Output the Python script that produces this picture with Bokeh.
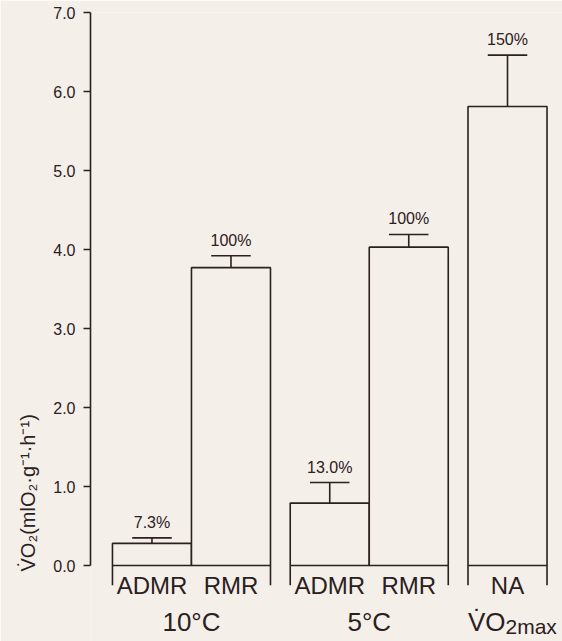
from bokeh.plotting import figure
from bokeh.models import ColumnDataSource, Range1d, FixedTicker, LabelSet, Label, Title
from bokeh.core.properties import value
from bokeh.embed import file_html
from bokeh.resources import INLINE

# ---- data ----
categories = ["ADMR", "RMR", "ADMR", "RMR", "NA"]
groups = ["10°C", "10°C", "5°C", "5°C", "V̇O₂max"]
group_names = ["10°C", "5°C", "V̇O₂max"]
values = [0.28, 3.77, 0.79, 4.03, 5.81]
errors = [0.07, 0.15, 0.26, 0.16, 0.65]
percent_labels = ["7.3%", "100%", "13.0%", "100%", "150%"]
y_ticks = [0, 1, 2, 3, 4, 5, 6, 7]
y_tick_labels = ["0.0", "1.0", "2.0", "3.0", "4.0", "5.0", "6.0", "7.0"]
y_label = "V̇O₂(mlO₂·g⁻¹·h⁻¹)"

BG = "#f5efea"
INK = "#2b2020"
FONT = "Liberation Sans"

# bar positions: unit width bars, groups separated by a quarter bar
xpos = []
x = 0.5
prev = None
for g in groups:
    if prev is not None:
        x += 1.0 if g == prev else 1.25
    xpos.append(x)
    prev = g

tops = [v + e for v, e in zip(values, errors)]
src = ColumnDataSource(dict(x=xpos, top=values, etop=tops, cat=categories,
                            pct=percent_labels,
                            cl=[xx - 0.25 for xx in xpos],
                            cr=[xx + 0.25 for xx in xpos]))

p = figure(width=562, height=641, x_range=Range1d(-0.278, 5.696),
           y_range=Range1d(-0.962, 7.0), output_backend="svg",
           toolbar_location=None, x_axis_type=None)
p.min_border_left = 90
p.min_border_right = 0
p.min_border_top = 12
p.min_border_bottom = 0
p.background_fill_color = BG
p.border_fill_color = BG
p.outline_line_color = None
p.grid.visible = False

ax = p.yaxis[0]
ax.ticker = FixedTicker(ticks=y_ticks)
ax.major_label_overrides = {t: l for t, l in zip(y_ticks, y_tick_labels)}
ax.bounds = (y_ticks[0], y_ticks[-1])
ax.minor_tick_line_color = None
ax.major_tick_in = 0
ax.major_tick_out = 7
ax.major_label_standoff = 8
ax.axis_line_color = INK
ax.axis_line_width = 1.6
ax.major_tick_line_color = INK
ax.major_tick_line_width = 1.6
ax.major_label_text_font = FONT
ax.major_label_text_font_size = "16px"
ax.major_label_text_color = INK

# y title as a side title, anchored near the bottom like the reference
p.add_layout(Title(text=y_label, align="left", offset=70, standoff=24,
                   text_font=FONT, text_font_size="20px",
                   text_font_style="normal", text_color=INK), "left")

# error bars (upper only)
p.segment(x0="x", y0="top", x1="x", y1="etop", source=src, line_color=INK, line_width=1.6)
p.segment(x0="cl", y0="etop", x1="cr", y1="etop", source=src, line_color=INK, line_width=1.6)

# bars
p.vbar(x="x", top="top", bottom=0, width=1.0, source=src, fill_color=BG,
       line_color=INK, line_width=1.6)

# group separator ticks below the baseline
gx0, gx1, gc = [], [], []
for name in group_names:
    xs = [xx for xx, g in zip(xpos, groups) if g == name]
    gx0.append(min(xs) - 0.5)
    gx1.append(max(xs) + 0.5)
    gc.append(sum(xs) / len(xs))
sep_x = gx0 + gx1
p.segment(x0=sep_x, y0=[0] * len(sep_x), x1=sep_x, y1=[-0.25] * len(sep_x),
          line_color=INK, line_width=1.6)

# percent labels above error bars
p.add_layout(LabelSet(x="x", y="etop", text="pct", source=src, y_offset=7,
                      text_align="center", text_baseline="bottom",
                      text_font=value(FONT), text_font_size=value("16px"),
                      text_color=INK))

# category labels under bars
p.add_layout(LabelSet(x="x", y=0, text="cat", source=src, y_offset=-28,
                      text_align="center", text_baseline="alphabetic",
                      text_font=value(FONT), text_font_size=value("24px"),
                      text_color=INK))

# group labels
for name, cx in zip(group_names, gc):
    if "₂" in name:
        main, sub = name.split("₂")
        p.add_layout(Label(x=cx, y=0, text=main, x_offset=-2, y_offset=-56,
                           text_align="right", text_baseline="alphabetic",
                           text_font=FONT, text_font_size="26px", text_color=INK))
        p.add_layout(Label(x=cx, y=0, text="2" + sub, x_offset=-2, y_offset=-61,
                           text_align="left", text_baseline="alphabetic",
                           text_font=FONT, text_font_size="21px", text_color=INK))
    else:
        p.add_layout(Label(x=cx, y=0, text=name, y_offset=-56,
                           text_align="center", text_baseline="alphabetic",
                           text_font=FONT, text_font_size="26px", text_color=INK))

open("out.html", "w").write(file_html(p, INLINE))
